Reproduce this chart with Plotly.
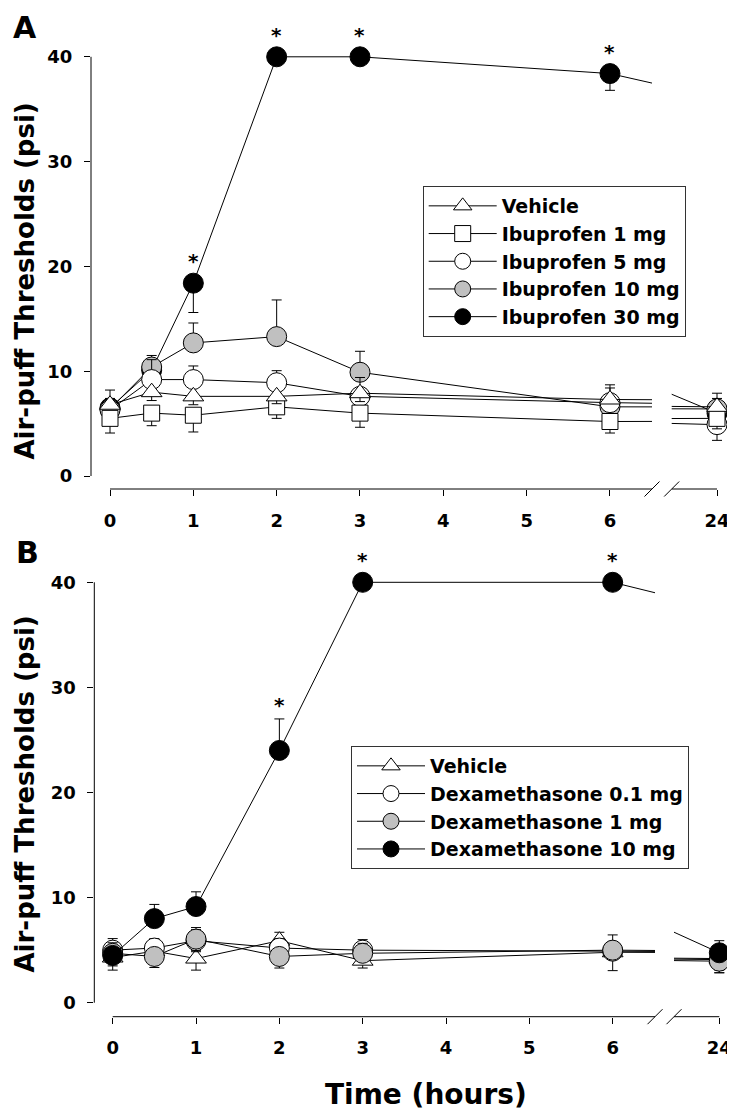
import plotly.graph_objects as go

# page body has an 8px margin, so the figure is drawn 8px smaller and everything shifted
PAGE_W, PAGE_H, OFF = 735, 1110, 8
W, H = PAGE_W - OFF, PAGE_H - OFF

hours = [0, 0.5, 1, 2, 3, 6, 24]
left_ticks = [0, 1, 2, 3, 4, 5, 6]
y_ticks = [0, 10, 20, 30, 40]

# Panel A: ibuprofen
ibu_names = ['Vehicle', 'Ibuprofen 1 mg', 'Ibuprofen 5 mg', 'Ibuprofen 10 mg', 'Ibuprofen 30 mg']
ibu_vehicle = [6.8, 8.0, 7.6, 7.6, 7.9, 7.3, 6.6]
ibu_1mg = [5.5, 6.0, 5.8, 6.6, 6.0, 5.2, 5.5]
ibu_5mg = [6.3, 9.2, 9.2, 8.9, 7.6, 7.0, 4.9]
ibu_10mg = [6.4, 10.4, 12.7, 13.3, 9.9, 6.6, 6.4]
ibu_30mg = [6.5, 10.1, 18.4, 40.0, 40.0, 38.4, 6.0]
# SEM, drawn one side only ('u' up, 'd' down, 'b' both)
ibu_vehicle_sem = [1.4, 0.8, 0.8, 0.7, 0.8, 1.4, 1.3]
ibu_vehicle_side = ['u', 'd', 'd', 'd', 'd', 'u', 'u']
ibu_1mg_sem = [1.4, 1.2, 1.6, 1.1, 1.35, 1.1, 1.0]
ibu_1mg_side = ['d', 'd', 'd', 'd', 'd', 'd', 'd']
ibu_5mg_sem = [1.0, 1.9, 1.3, 1.15, 1.8, 1.4, 1.5]
ibu_5mg_side = ['u', 'u', 'u', 'u', 'u', 'u', 'd']
ibu_10mg_sem = [1.0, 1.1, 1.9, 3.5, 2.0, 0.5, 1.0]
ibu_10mg_side = ['u', 'u', 'u', 'u', 'u', 'd', 'u']
ibu_30mg_sem = [1.0, 1.1, 2.8, 0.0, 0.0, 1.6, 1.0]
ibu_30mg_side = ['d', 'u', 'd', 'd', 'd', 'd', 'd']
ibu_30mg_sig = [0, 0, 1, 1, 1, 1, 0]

# Panel B: dexamethasone
dex_names = ['Vehicle', 'Dexamethasone 0.1 mg', 'Dexamethasone 1 mg', 'Dexamethasone 10 mg']
dex_vehicle = [4.3, 4.9, 4.2, 5.9, 4.0, 4.8, 4.2]
dex_01mg = [5.0, 5.2, 5.9, 5.2, 5.0, 4.9, 4.1]
dex_1mg = [4.7, 4.4, 6.05, 4.4, 4.7, 5.0, 3.95]
dex_10mg = [4.5, 8.0, 9.15, 24.0, 40.0, 40.0, 4.75]
dex_vehicle_sem = [1.2, 0.8, 1.1, 0.8, 0.7, 1.75, 1.1]
dex_vehicle_side = ['d', 'd', 'd', 'u', 'd', 'd', 'd']
dex_01mg_sem = [1.1, 0.9, 1.05, 0.9, 1.0, 0.9, 1.25]
dex_01mg_side = ['u', 'u', 'b', 'u', 'u', 'u', 'd']
dex_1mg_sem = [1.0, 1.05, 1.1, 1.1, 0.95, 1.45, 1.1]
dex_1mg_side = ['u', 'd', 'b', 'd', 'u', 'u', 'd']
dex_10mg_sem = [1.0, 1.35, 1.4, 3.0, 0.0, 0.0, 1.15]
dex_10mg_side = ['d', 'u', 'u', 'u', 'u', 'u', 'u']
dex_10mg_sig = [0, 0, 0, 1, 1, 1, 0]

symbols = ['triangle-up', 'square', 'circle', 'circle', 'circle']
fills = ['white', 'white', 'white', '#c0c0c0', 'black']
sizes = [18, 16, 20, 20, 20]

FONT = 'DejaVu Sans'


def px_x(x):
    return (x - OFF) / W


def px_y(y):
    return 1 - (y - OFF) / H


def err_parts(sem, side):
    up = [s if d in 'ub' else 0 for s, d in zip(sem, side)]
    dn = [s if d in 'db' else 0 for s, d in zip(sem, side)]
    return up, dn


# pixel geometry of each panel in page pixels (layout only)
geo = {
    'A': dict(y0=476, ys=10.48, bottom=489, top=40, yax=91, x0=110, xs=83.33,
              brk_l=652, brk_r=671.7, p24=717, xa='x', xb='x2', y='y', leg='legend'),
    'B': dict(y0=1002.7, ys=10.51, bottom=1016.7, top=550, yax=94.3, x0=112.7, xs=83.33,
              brk_l=655, brk_r=674, p24=719.3, xa='x3', xb='x4', y='y2', leg='legend2'),
}

fig = go.Figure()
layout = {}
shapes = []
annotations = []


def add_panel(key, values, sems, sides, names, styles, order):
    g = geo[key]
    left_rng = [(g['yax'] - g['x0']) / g['xs'], (g['brk_l'] - g['x0']) / g['xs']]
    rs = (g['p24'] - g['brk_r']) / 1.0
    right_rng = [23.0, 24 + (PAGE_W - g['p24']) / rs]
    y_rng = [-(g['bottom'] - g['y0']) / g['ys'], (g['y0'] - g['top']) / g['ys']]
    ydom = [px_y(g['bottom']), px_y(g['top'])]

    tickfont = dict(family=FONT, size=18, color='black', weight='bold')
    xa_name = 'xaxis' if g['xa'] == 'x' else 'xaxis' + g['xa'][1:]
    xb_name = 'xaxis' + g['xb'][1:]
    y_name = 'yaxis' if g['y'] == 'y' else 'yaxis' + g['y'][1:]
    common = dict(ticks='outside', ticklen=6, tickwidth=1, tickcolor='black', showline=False,
                  showgrid=False, zeroline=False, tickfont=tickfont)
    layout[xa_name] = dict(common, domain=[px_x(g['yax']), px_x(g['brk_l'])], range=left_rng,
                           anchor=g['y'], tickvals=left_ticks, ticklabelstandoff=9)
    layout[xb_name] = dict(common, domain=[px_x(g['brk_r']), 1], range=right_rng, anchor=g['y'],
                           tickvals=[24], ticktext=['24'], ticklabelstandoff=9)
    layout[y_name] = dict(common, domain=ydom, range=y_rng, anchor=g['xa'], tickvals=y_ticks,
                          ticklabelstandoff=8)

    for i in order:
        up, dn = err_parts(sems[i], sides[i])
        sym, fill, sz = styles[i]
        for xa, show in ((g['xa'], True), (g['xb'], False)):
            fig.add_trace(go.Scatter(
                x=hours, y=values[i], name=names[i], mode='lines+markers',
                xaxis=xa, yaxis=g['y'], legend=g['leg'], showlegend=show, legendrank=i,
                line=dict(color='black', width=1),
                marker=dict(symbol=sym, size=sz, color=fill, line=dict(color='black', width=1)),
                error_y=dict(type='data', symmetric=False, array=up, arrayminus=dn,
                             color='black', thickness=1, width=5),
            ))

    # axis lines with the break
    ln = dict(color='black', width=1)
    shapes.append(dict(type='line', xref=g['xa'] + ' domain', yref=g['y'], x0=0, x1=0,
                       y0=0, y1=40, line=ln))
    shapes.append(dict(type='line', xref=g['xa'], yref=g['y'] + ' domain', x0=0, x1=left_rng[1],
                       y0=0, y1=0, line=ln))
    shapes.append(dict(type='line', xref=g['xb'], yref=g['y'] + ' domain', x0=right_rng[0], x1=24,
                       y0=0, y1=0, line=ln))
    for cx in (g['brk_l'], g['brk_r']):
        shapes.append(dict(type='line', xref='paper', yref='paper',
                           x0=px_x(cx - 7.5), x1=px_x(cx + 7.5),
                           y0=px_y(g['bottom'] + 7.5), y1=px_y(g['bottom'] - 7.5), line=ln))


add_panel('A',
          [ibu_vehicle, ibu_1mg, ibu_5mg, ibu_10mg, ibu_30mg],
          [ibu_vehicle_sem, ibu_1mg_sem, ibu_5mg_sem, ibu_10mg_sem, ibu_30mg_sem],
          [ibu_vehicle_side, ibu_1mg_side, ibu_5mg_side, ibu_10mg_side, ibu_30mg_side],
          ibu_names, list(zip(symbols, fills, sizes)), order=[4, 3, 2, 1, 0])
add_panel('B',
          [dex_vehicle, dex_01mg, dex_1mg, dex_10mg],
          [dex_vehicle_sem, dex_01mg_sem, dex_1mg_sem, dex_10mg_sem],
          [dex_vehicle_side, dex_01mg_side, dex_1mg_side, dex_10mg_side],
          dex_names, list(zip([symbols[0]] + symbols[2:], [fills[0]] + fills[2:], [sizes[0]] + sizes[2:])),
          order=[0, 1, 2, 3])

# significance asterisks
for xa, ya, vals, sem, side, sig in (('x', 'y', ibu_30mg, ibu_30mg_sem, ibu_30mg_side, ibu_30mg_sig),
                                     ('x3', 'y2', dex_10mg, dex_10mg_sem, dex_10mg_side, dex_10mg_sig)):
    up, _ = err_parts(sem, side)
    for h, v, u, s in zip(hours, vals, up, sig):
        if s:
            annotations.append(dict(x=h, y=v + u, xref=xa, yref=ya, text='*', showarrow=False,
                                    yshift=22 if u == 0 else 14,
                                    font=dict(family=FONT, size=20, color='black', weight='bold')))

bold = dict(family=FONT, color='black', weight='bold')
centered = dict(xref='paper', yref='paper', xanchor='center', yanchor='middle', showarrow=False)
annotations += [
    dict(centered, x=px_x(25), y=px_y(27), text='A', font=dict(bold, size=30)),
    dict(centered, x=px_x(27), y=px_y(552), text='B', font=dict(bold, size=30)),
    dict(centered, x=px_x(24.5), y=px_y(281), text='Air-puff Thresholds (psi)', textangle=-90,
         font=dict(bold, size=26)),
    dict(centered, x=px_x(24.5), y=px_y(794), text='Air-puff Thresholds (psi)', textangle=-90,
         font=dict(bold, size=26)),
    dict(centered, x=px_x(426), y=px_y(1094), text='Time (hours)', font=dict(bold, size=28)),
]

legend_style = dict(xanchor='left', yanchor='top', bgcolor='white', bordercolor='#333',
                    borderwidth=1, font=dict(bold, size=19), itemwidth=68)

fig.update_layout(
    width=W, height=H, margin=dict(l=0, r=0, t=0, b=0),
    paper_bgcolor='white', plot_bgcolor='white',
    legend=dict(legend_style, x=px_x(422.7), y=px_y(186)),
    legend2=dict(legend_style, x=px_x(351), y=px_y(746)),
    shapes=shapes, annotations=annotations, **layout,
)

fig.write_html('out.html')
